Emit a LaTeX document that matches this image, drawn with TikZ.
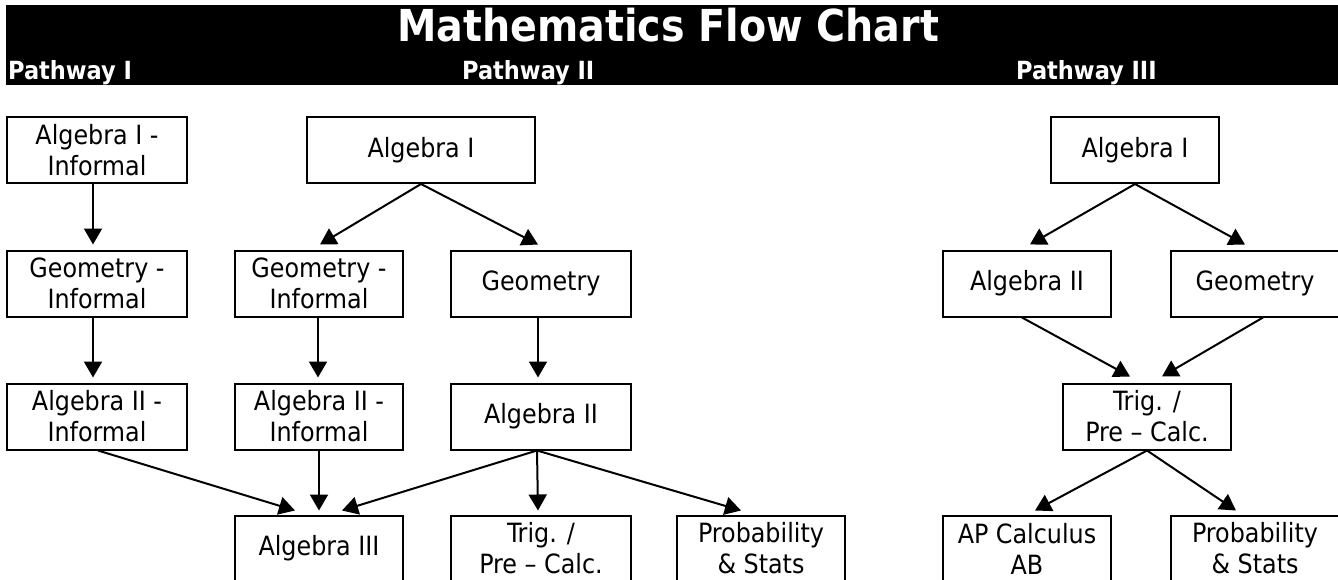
\documentclass[tikz,border=0pt]{standalone}
\usepackage{fontspec}
\setmainfont{DejaVu Sans Condensed}
\usetikzlibrary{arrows.meta}
\begin{document}
\begin{tikzpicture}[x=1pt,y=-1pt,
  box/.style={draw,line width=2pt,inner sep=0pt,align=center,
    font=\fontsize{26.5}{31}\selectfont,minimum height=66pt},
  wA/.style={box,minimum width=180pt},
  wB/.style={box,minimum width=168pt},
  wC/.style={box,minimum width=228pt},
  conn/.style={line width=2pt,-{Triangle[length=16pt,width=18pt]}},
  hdr/.style={text=white,font=\bfseries\fontsize{25}{28}\selectfont,anchor=base west,inner sep=0pt},
  ttl/.style={text=white,font=\bfseries\fontsize{44}{48}\selectfont,anchor=base,inner sep=0pt}]
\useasboundingbox (0,0) rectangle (1338,579);
\fill[white] (0,0) rectangle (1338,579);
\fill[black] (6,5) rectangle (1338,85);
\node[ttl] (title) at (668,41) {Mathematics Flow Chart};
\node[hdr] (h1) at (8,79) {Pathway I};
\node[hdr] (h2) at (462,79) {Pathway II};
\node[hdr] (h3) at (1016,79) {Pathway III};
% Pathway I
\node[wA] (pa) at (97,150) {Algebra I -\\Informal};
\node[wA] (pb) at (97,283.5) {Geometry -\\Informal};
\node[wA] (pc) at (97,416.5) {Algebra II -\\Informal};
% Pathway II
\node[wC] (qa) at (421,150) {Algebra I};
\node[wB] (qb) at (319,283.5) {Geometry -\\Informal};
\node[wA] (qc) at (541,283.5) {Geometry};
\node[wB] (qd) at (319,416.5) {Algebra II -\\Informal};
\node[wA] (qe) at (541,416.5) {Algebra II};
\node[wB] (qf) at (319,548.5) {Algebra III};
\node[wA] (qg) at (541,548.5) {Trig. /\\Pre -- Calc.};
\node[wB] (qh) at (761,548.5) {Probability\\\& Stats};
% Pathway III
\node[wB] (ra) at (1135,150) {Algebra I};
\node[wB] (rb) at (1027,283.5) {Algebra II};
\node[wB] (rc) at (1255,283.5) {Geometry};
\node[wB] (rd) at (1147,416.5) {Trig. /\\Pre -- Calc.};
\node[wB] (re) at (1027,548.5) {AP Calculus\\AB};
\node[wB] (rf) at (1255,548.5) {Probability\\\& Stats};
% connectors Pathway I
\draw[conn] ([xshift=-4pt]pa.south) -- ([xshift=-4pt,yshift=5pt]pb.north);
\draw[conn] ([xshift=-4pt]pb.south) -- ([xshift=-4pt,yshift=5pt]pc.north);
\draw[conn] ([xshift=1pt]pc.south) -- ([xshift=-24pt,yshift=4pt]qf.north);
% connectors Pathway II
\draw[conn] (qa.south) -- ([xshift=1pt,yshift=5pt]qb.north);
\draw[conn] (qa.south) -- ([xshift=-3pt,yshift=5pt]qc.north);
\draw[conn] ([xshift=-1pt]qb.south) -- ([xshift=-1pt,yshift=5pt]qd.north);
\draw[conn] ([xshift=-3pt]qc.south) -- ([xshift=-3pt,yshift=5pt]qe.north);
\draw[conn] ([xshift=0pt]qd.south) -- ([xshift=0pt,yshift=4pt]qf.north);
\draw[conn] ([xshift=-4pt]qe.south) -- ([xshift=23pt,yshift=4pt]qf.north);
\draw[conn] ([xshift=-4pt]qe.south) -- ([xshift=-3pt,yshift=4pt]qg.north);
\draw[conn] ([xshift=-4pt]qe.south) -- ([xshift=-20pt,yshift=4pt]qh.north);
% connectors Pathway III
\draw[conn] (ra.south) -- ([xshift=3pt,yshift=5pt]rb.north);
\draw[conn] (ra.south) -- ([xshift=-10pt,yshift=5pt]rc.north);
\draw[conn] ([xshift=-5pt]rb.south) -- ([xshift=-17pt,yshift=6pt]rd.north);
\draw[conn] ([xshift=8pt]rc.south) -- ([xshift=15pt,yshift=6pt]rd.north);
\draw[conn] (rd.south) -- ([xshift=8pt,yshift=4pt]re.north);
\draw[conn] (rd.south) -- ([xshift=-19pt,yshift=4pt]rf.north);
\end{tikzpicture}
\end{document}
